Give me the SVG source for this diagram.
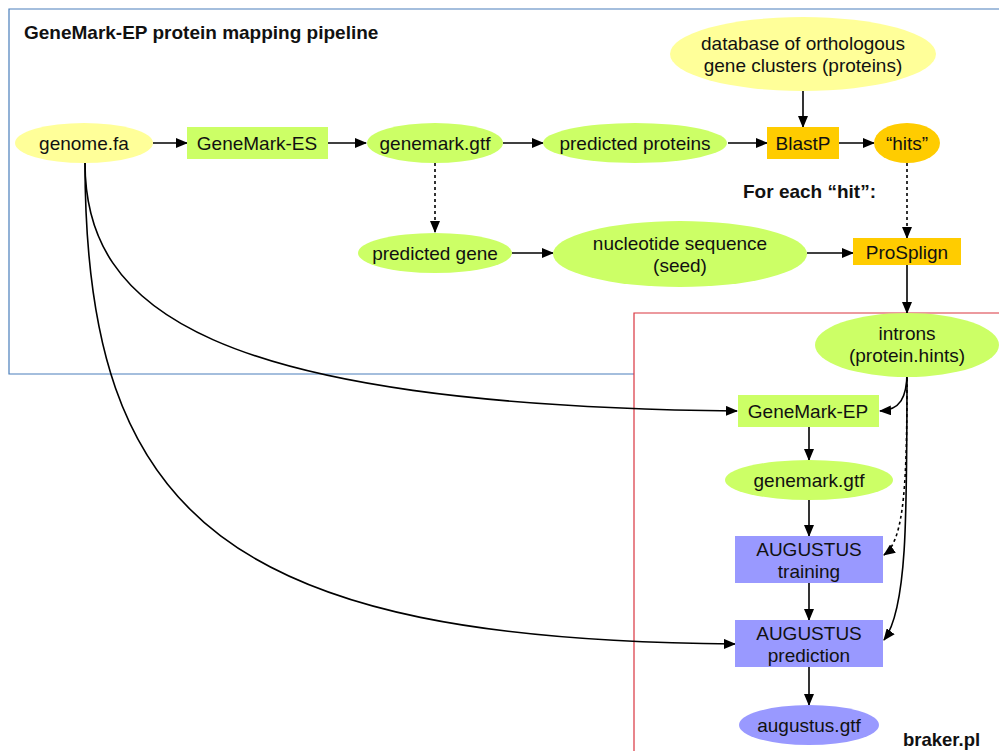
<svg xmlns="http://www.w3.org/2000/svg" width="999" height="751" viewBox="0 0 999 751">
<defs>
<marker id="ah" markerWidth="12" markerHeight="10" refX="11" refY="5" orient="auto" markerUnits="userSpaceOnUse">
<path d="M0,0 L12,5 L0,10 z" fill="#000"/>
</marker>
<style>
text{font-family:"Liberation Sans",Arial,sans-serif;font-size:19px;fill:#111;text-anchor:middle}
.b{font-weight:bold;text-anchor:start;font-size:19px}
.c{fill:none;stroke:#000;stroke-width:1.6;marker-end:url(#ah)}
.d{stroke-dasharray:3,3}
.y{fill:#ffff99}.g{fill:#ccff66}.o{fill:#ffcc00}.p{fill:#9999ff}
</style>
</defs>
<rect x="0" y="0" width="999" height="751" fill="#fff"/>
<path d="M634,374 L9,374 L9,9 L1000,9" fill="none" stroke="#4a7ebb" stroke-width="1.2"/>
<path d="M634,751 L634,313 L1000,313" fill="none" stroke="#d9343f" stroke-width="1.2"/>
<text class="b" x="24" y="39">GeneMark-EP protein mapping pipeline</text>
<text class="b" x="743" y="198">For each “hit”:</text>
<text class="b" x="903" y="746" style="font-size:18.5px">braker.pl</text>
<g id="connectors">
<path class="c" d="M153,143 L187,143"/>
<path class="c" d="M328,143 L366,143"/>
<path class="c" d="M503,143 L543,143"/>
<path class="c" d="M728,143 L767,143"/>
<path class="c" d="M839,143 L874,143"/>
<path class="c" d="M803,91 L803,127"/>
<path class="c d" d="M435,163 L435,232"/>
<path class="c d" d="M907,163 L907,238"/>
<path class="c" d="M512,253 L553,253"/>
<path class="c" d="M807,253 L853,253"/>
<path class="c" d="M907,265 L907,313"/>
<path class="c" d="M907,372 C907,398 900,410 880,411"/>
<path class="c d" d="M907,372 C907,480 905,540 884,555"/>
<path class="c" d="M907,372 C907,520 907,610 884,640"/>
<path class="c" d="M809,427 L809,460"/>
<path class="c" d="M809,500 L809,536"/>
<path class="c" d="M809,583 L809,620"/>
<path class="c" d="M809,667 L809,705"/>
<path class="c" d="M85,163 C85,310 210,405 737,411"/>
<path class="c" d="M85,163 C85,520 230,640 735,644"/>
</g>
<g id="genome"><ellipse class="y" cx="84" cy="143" rx="69" ry="20"/><text x="84" y="150">genome.fa</text></g>
<g id="genemark_es"><rect class="g" x="187" y="127" width="141" height="32"/><text x="257" y="150">GeneMark-ES</text></g>
<g id="genemark_gtf1"><ellipse class="g" cx="435" cy="143" rx="68" ry="20"/><text x="435" y="150">genemark.gtf</text></g>
<g id="pred_proteins"><ellipse class="g" cx="635" cy="143" rx="92" ry="20"/><text x="635" y="150">predicted proteins</text></g>
<g id="blastp"><rect class="o" x="767" y="127" width="72" height="32"/><text x="803" y="150">BlastP</text></g>
<g id="hits"><ellipse class="o" cx="907" cy="143" rx="33" ry="20"/><text x="907" y="150">“hits”</text></g>
<g id="database"><ellipse class="y" cx="803" cy="54" rx="133" ry="37"/><text x="803" y="50">database of orthologous</text><text x="803" y="72">gene clusters (proteins)</text></g>
<g id="pred_gene"><ellipse class="g" cx="435" cy="253" rx="77" ry="20"/><text x="435" y="260">predicted gene</text></g>
<g id="nucleotide"><ellipse class="g" cx="680" cy="254" rx="127" ry="33"/><text x="680" y="250">nucleotide sequence</text><text x="680" y="272">(seed)</text></g>
<g id="prosplign"><rect class="o" x="853" y="238" width="108" height="27"/><text x="907" y="259">ProSplign</text></g>
<g id="introns"><ellipse class="g" cx="907" cy="345" rx="92" ry="32"/><text x="907" y="340">introns</text><text x="907" y="362">(protein.hints)</text></g>
<g id="genemark_ep"><rect class="g" x="738" y="395" width="141" height="32"/><text x="808" y="418">GeneMark-EP</text></g>
<g id="genemark_gtf2"><ellipse class="g" cx="809" cy="480" rx="84" ry="20"/><text x="809" y="487">genemark.gtf</text></g>
<g id="aug_train"><rect class="p" x="735" y="536" width="148" height="47"/><text x="809" y="556">AUGUSTUS</text><text x="809" y="578">training</text></g>
<g id="aug_pred"><rect class="p" x="735" y="620" width="148" height="47"/><text x="809" y="640">AUGUSTUS</text><text x="809" y="662">prediction</text></g>
<g id="augustus_gtf"><ellipse class="p" cx="809" cy="725" rx="70" ry="20"/><text x="809" y="732">augustus.gtf</text></g>
</svg>
